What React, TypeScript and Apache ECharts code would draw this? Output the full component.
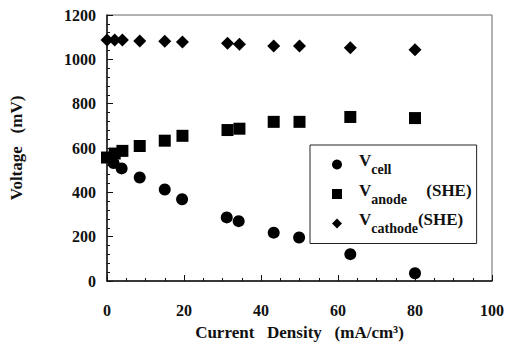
import React, { useEffect, useRef } from "react";
import * as echarts from "echarts";

const xTicks = [0, 20, 40, 60, 80, 100];
const yTicks = [0, 200, 400, 600, 800, 1000, 1200];

const currentCell = [1.7, 3.8, 8.5, 15, 19.5, 31.1, 34.2, 43.3, 49.9, 63.2, 80];
const vCell = [532, 508, 467, 413, 369, 287, 270, 218, 196, 121, 35];

const currentAnode = [0, 2, 4, 8.5, 15, 19.6, 31.3, 34.4, 43.3, 50, 63.2, 80];
const vAnode = [557, 575, 587, 609, 633, 655, 681, 687, 718, 718, 740, 735];

const currentCathode = [0, 2, 4, 8.5, 15, 19.6, 31.3, 34.4, 43.3, 50, 63.2, 80];
const vCathode = [1087, 1087, 1087, 1083, 1082, 1078, 1072, 1068, 1060, 1060, 1052, 1043];

const FONT = "Liberation Serif";

const pairs = (xs: number[], ys: number[]) => xs.map((x, i) => [x, ys[i]]);

export default function App() {
  const ref = useRef<HTMLDivElement>(null);
  useEffect(() => {
    if (!ref.current) return;
    const chart = echarts.init(ref.current, undefined, { renderer: "svg" });
    const legendText: Record<string, string> = {
      Vcell: "{v|V}{sub|cell}",
      "Vanode (SHE)": "{v|V}{suba|anode}{v|(SHE)}",
      "Vcathode (SHE)": "{v|V}{sub|cathode}{v|(SHE)}",
    };
    chart.setOption({
      animation: false,
      backgroundColor: "#ffffff",
      textStyle: { fontFamily: FONT },
      grid: {
        left: 104,
        right: 15,
        top: 15,
        bottom: 53,
        show: true,
        borderColor: "#666",
        borderWidth: 1,
      },
      xAxis: {
        type: "value",
        min: xTicks[0],
        max: xTicks[xTicks.length - 1],
        interval: 20,
        name: "Current   Density   (mA/cm³)",
        nameLocation: "middle",
        nameGap: 43,
        nameTextStyle: { fontFamily: FONT, fontWeight: "bold", fontSize: 17, color: "#111" },
        axisLine: { show: true, lineStyle: { color: "#111", width: 1.5 } },
        axisTick: { show: true, inside: true, length: 6, lineStyle: { color: "#111" } },
        minorTick: { show: true, splitNumber: 4, length: 3, lineStyle: { color: "#111" } },
        splitLine: { show: false },
        axisLabel: {
          margin: 21,
          fontFamily: FONT,
          fontWeight: "bold",
          fontSize: 16,
          color: "#111",
          formatter: (v: number) => String(v),
        },
      },
      yAxis: {
        type: "value",
        min: yTicks[0],
        max: yTicks[yTicks.length - 1],
        interval: 200,
        name: "Voltage   (mV)",
        nameLocation: "middle",
        nameGap: 82,
        nameTextStyle: { fontFamily: FONT, fontWeight: "bold", fontSize: 17, color: "#111" },
        axisLine: { show: true, lineStyle: { color: "#111", width: 1.5 } },
        axisTick: { show: true, inside: true, length: 6, lineStyle: { color: "#111" } },
        minorTick: { show: true, splitNumber: 5, length: 3, lineStyle: { color: "#111" } },
        splitLine: { show: false },
        axisLabel: {
          margin: 11,
          fontFamily: FONT,
          fontWeight: "bold",
          fontSize: 16,
          color: "#111",
          formatter: (v: number) => String(v),
        },
      },
      legend: {
        orient: "vertical",
        left: 310,
        top: 145,
        itemWidth: 10,
        itemHeight: 10,
        itemGap: 5,
        padding: [7, 5, 8, 22],
        borderColor: "#222",
        borderWidth: 1,
        data: ["Vcell", "Vanode (SHE)", "Vcathode (SHE)"],
        formatter: (name: string) => legendText[name],
        itemStyle: { opacity: 1 },
        textStyle: {
          color: "#111",
          fontFamily: FONT,
          rich: {
            v: { fontFamily: FONT, fontWeight: "bold", fontSize: 17, color: "#111", padding: [0, 0, 8, 0] },
            sub: { fontFamily: FONT, fontWeight: "bold", fontSize: 14, color: "#111", padding: [10, 0, 0, 0] },
            suba: { fontFamily: FONT, fontWeight: "bold", fontSize: 14, color: "#111", padding: [10, 0, 0, 0], width: 55 },
          },
          padding: [0, 0, 0, 12],
        },
      },
      series: [
        {
          name: "Vcell",
          type: "scatter",
          symbol: "circle",
          symbolSize: 12,
          itemStyle: { color: "#000", opacity: 1 },
          data: pairs(currentCell, vCell),
          z: 3,
        },
        {
          name: "Vanode (SHE)",
          type: "scatter",
          symbol: "rect",
          symbolSize: 12,
          itemStyle: { color: "#000", opacity: 1 },
          data: pairs(currentAnode, vAnode),
          z: 2,
        },
        {
          name: "Vcathode (SHE)",
          type: "scatter",
          symbol: "diamond",
          symbolSize: [13, 13],
          itemStyle: { color: "#000", opacity: 1 },
          data: pairs(currentCathode, vCathode),
          z: 2,
        },
      ],
    });
    return () => chart.dispose();
  }, []);
  return <div ref={ref} style={{ width: 507, height: 346, position: "absolute", left: 0, top: 0 }} />;
}
